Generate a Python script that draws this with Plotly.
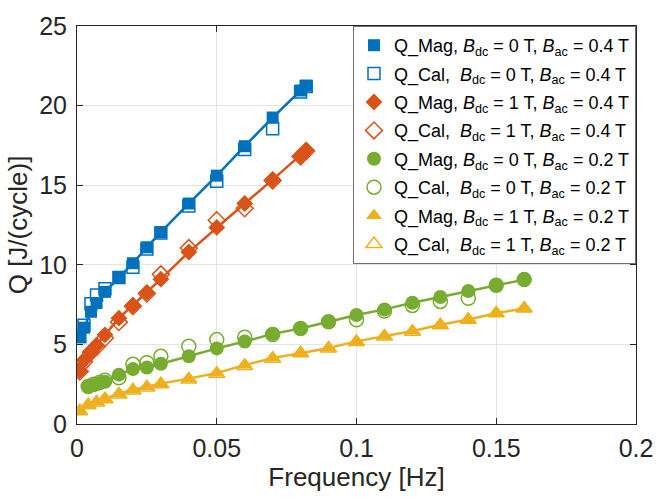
import plotly.graph_objects as go

# Frequencies [Hz] and dissipated heat per cycle Q [J/cycle]
f_dc0_ac04 = [0.001, 0.0025, 0.005, 0.007, 0.01, 0.015, 0.02, 0.025, 0.03,
              0.04, 0.05, 0.06, 0.07, 0.08, 0.082]
q_mag_dc0_ac04 = [5.45, 6.05, 7.05, 7.6, 8.3, 9.2, 10.1, 11.1, 12.05,
                  13.85, 15.6, 17.45, 19.25, 20.95, 21.25]
q_cal_dc0_ac04 = [5.5, 6.2, 7.55, 8.1, 8.5, 9.2, 9.85, 11.0, 12.0,
                  13.7, 15.25, 17.25, 18.55, 20.85, 21.2]

f_dc1_ac04 = [0.001, 0.0025, 0.005, 0.007, 0.01, 0.015, 0.02, 0.025, 0.03,
              0.04, 0.05, 0.06, 0.07, 0.08, 0.082]
q_mag_dc1_ac04 = [3.35, 4.0, 4.55, 4.95, 5.6, 6.65, 7.45, 8.25, 9.1,
                  10.8, 12.35, 13.85, 15.35, 16.85, 17.2]
q_cal_dc1_ac04 = [3.3, 3.9, 4.5, 4.85, 5.4, 6.4, 7.4, 8.2, 9.4,
                  11.05, 12.8, 13.55, 15.3, 16.8, 17.15]

f_dc0_ac02 = [0.004, 0.006, 0.008, 0.01, 0.015, 0.02, 0.025, 0.03, 0.04,
              0.05, 0.06, 0.07, 0.08, 0.09, 0.1, 0.11, 0.12, 0.13, 0.14,
              0.15, 0.16]
q_mag_dc0_ac02 = [2.35, 2.45, 2.55, 2.65, 3.1, 3.45, 3.55, 3.78, 4.26,
                  4.75, 5.18, 5.66, 6.0, 6.42, 6.85, 7.2, 7.62, 7.98, 8.35,
                  8.72, 9.07]
q_cal_dc0_ac02 = [2.35, 2.5, 2.6, 2.75, 2.9, 3.75, 3.85, 4.25, 4.88,
                  5.3, 5.45, 5.62, 6.0, 6.42, 6.55, 7.1, 7.45, 7.7, 7.9,
                  8.72, 9.07]

f_dc1_ac02 = [0.001, 0.004, 0.007, 0.01, 0.015, 0.02, 0.025, 0.03, 0.04,
              0.05, 0.06, 0.07, 0.08, 0.09, 0.1, 0.11, 0.12, 0.13, 0.14,
              0.15, 0.16]
q_mag_dc1_ac02 = [0.85, 1.15, 1.4, 1.6, 1.9, 2.15, 2.35, 2.55, 2.85,
                  3.2, 3.7, 4.15, 4.45, 4.77, 5.19, 5.52, 5.84, 6.23, 6.57,
                  6.96, 7.26]
q_cal_dc1_ac02 = [0.8, 1.2, 1.35, 1.55, 1.85, 2.1, 2.3, 2.5, 2.8,
                  3.15, 3.65, 4.1, 4.45, 4.75, 5.15, 5.5, 5.8, 6.2, 6.55,
                  6.95, 7.25]

x_ticks = [0, 0.05, 0.1, 0.15, 0.2]
x_tick_labels = ["0", "0.05", "0.1", "0.15", "0.2"]
y_ticks = [0, 5, 10, 15, 20, 25]

BLUE = "#0072BD"
ORANGE = "#D95319"
YELLOW = "#EDB120"
GREEN = "#77AC30"
FONT = "Liberation Sans, Arial, sans-serif"
INK = "#262626"


def label(kind, bdc, bac):
    sep = ",\u00a0" if kind == "Mag" else ",\u00a0\u00a0"
    return (f"Q_{kind}{sep}<i>B</i><sub>dc</sub> = {bdc} T, "
            f"<i>B</i><sub>ac</sub> = {bac} T")


series = [
    # (freq, mag, cal, color, filled symbol, open symbol, size, Bdc, Bac)
    (f_dc0_ac04, q_mag_dc0_ac04, q_cal_dc0_ac04, BLUE, "square", "square-open", 12, 0, 0.4),
    (f_dc1_ac04, q_mag_dc1_ac04, q_cal_dc1_ac04, ORANGE, "diamond", "diamond-open", 13, 1, 0.4),
    (f_dc0_ac02, q_mag_dc0_ac02, q_cal_dc0_ac02, GREEN, "circle", "circle-open", 14, 0, 0.2),
    (f_dc1_ac02, q_mag_dc1_ac02, q_cal_dc1_ac02, YELLOW, "triangle-up", "triangle-up-open", 14, 1, 0.2),
]

fig = go.Figure()

# connecting lines through the magnetometer values
for f, mag, cal, color, sym, osym, size, bdc, bac in series:
    fig.add_trace(go.Scatter(
        x=f, y=mag, mode="lines", showlegend=False, hoverinfo="skip",
        line=dict(color=color, width=2.5),
    ))

# markers: filled = Q_Mag, open = Q_Cal
group = 0
for f, mag, cal, color, sym, osym, size, bdc, bac in series:
    fig.add_trace(go.Scatter(
        x=f, y=mag, mode="markers", name=label("Mag", bdc, bac),
        legendgroup=f"g{group}",
        marker=dict(symbol=sym, size=size, color=color,
                    line=dict(width=0)),
    ))
    group += 1
    fig.add_trace(go.Scatter(
        x=f, y=cal, mode="markers", name=label("Cal", bdc, bac),
        legendgroup=f"g{group}",
        marker=dict(symbol=osym, size=size, color=color,
                    line=dict(width=1.5, color=color)),
    ))
    group += 1

axis_common = dict(
    showline=True, linecolor=INK, linewidth=1, mirror="ticks",
    ticks="inside", ticklen=6, tickcolor=INK,
    showgrid=True, gridcolor="#e4e4e4", gridwidth=1,
    zeroline=False,
    tickfont=dict(family=FONT, size=25, color=INK),
)

fig.update_layout(
    width=665, height=503,
    margin=dict(l=77, r=18, t=19, b=79),
    paper_bgcolor="white", plot_bgcolor="white",
    font=dict(family=FONT, color=INK),
    xaxis=dict(range=[0, 0.2], tickvals=x_ticks, ticktext=x_tick_labels,
               ticklabelstandoff=2,
               title=dict(text="Frequency [Hz]", standoff=2,
                          font=dict(family=FONT, size=26, color=INK)),
               **axis_common),
    yaxis=dict(range=[0, 25], tickvals=y_ticks,
               ticklabelstandoff=4,
               title=dict(text="Q [J/(cycle)]", standoff=4,
                          font=dict(family=FONT, size=26, color=INK)),
               **axis_common),
    legend=dict(
        x=1.0, y=1.0, xanchor="right", yanchor="top",
        bgcolor="white", bordercolor="#707070", borderwidth=1,
        font=dict(family=FONT, size=18, color="black"),
        tracegroupgap=2, itemwidth=30,
    ),
)

fig.write_html("out.html")
